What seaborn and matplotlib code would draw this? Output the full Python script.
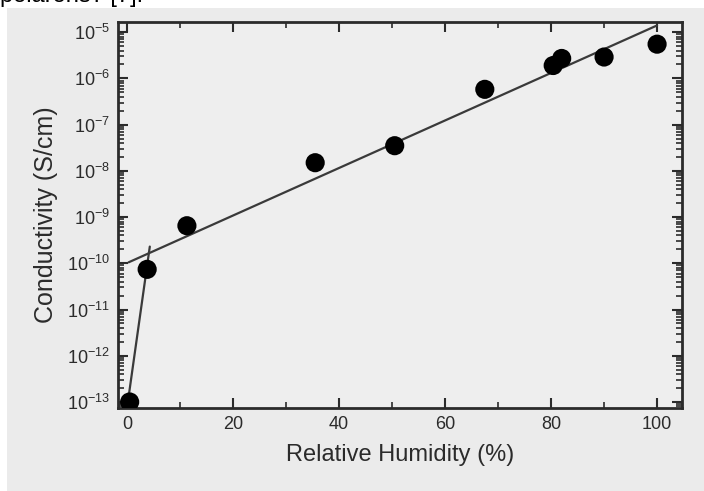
# Conductivity vs relative humidity (scanned figure recreation)
import numpy as np
import pandas as pd
import matplotlib
matplotlib.use("Agg")
import matplotlib.pyplot as plt
from matplotlib.patches import Rectangle
from matplotlib.ticker import LogLocator, MultipleLocator, FixedLocator, FuncFormatter
import seaborn as sns

# measured points
humidity = [0.5, 3.8, 11.3, 35.5, 50.5, 67.5, 80.4, 82.0, 90.0, 100.0]
conductivity = [1.0e-13, 7.4e-11, 6.5e-10, 1.5e-8, 3.5e-8, 5.8e-7, 1.9e-6, 2.7e-6, 2.9e-6, 5.5e-6]

# fitted lines (end points)
steep_x = [0.0, 4.3]
steep_y = [7.4e-14, 2.3e-10]
fit_x = [0.3, 100.0]
fit_y = [1.05e-10, 1.4e-5]

x_ticks = [0, 20, 40, 60, 80, 100]
y_exponents = [-13, -12, -11, -10, -9, -8, -7, -6, -5]

sns.set_theme(style="ticks")
plt.rcParams["font.family"] = ["Liberation Sans", "DejaVu Sans"]
plt.rcParams["mathtext.default"] = "regular"

ink = "#2b2b2b"
fig = plt.figure(figsize=(7.04, 4.91), dpi=100)
fig.patch.set_facecolor("white")
fig.add_artist(Rectangle((7 / 704, 0), 1, 1 - 8 / 491, transform=fig.transFigure,
                         facecolor="#ebebeb", edgecolor="none", zorder=0))
# running text of the page above the scanned figure, only its lower edge shows
fig.text(0.0, 1 - 2 / 491, "polarons? [7].", fontsize=17, color="black",
         ha="left", va="baseline")

ax = fig.add_axes([118 / 704, 1 - 408 / 491, (682 - 118) / 704, (408 - 22) / 491])
ax.set_facecolor("#eeeeee")

pts = pd.DataFrame({"rh": humidity, "sigma": conductivity})
sns.lineplot(x=steep_x, y=steep_y, ax=ax, color="#3a3a3a", linewidth=1.6)
sns.lineplot(x=fit_x, y=fit_y, ax=ax, color="#3a3a3a", linewidth=1.6)
sns.scatterplot(data=pts, x="rh", y="sigma", ax=ax, s=190, color="black",
                edgecolor="none", zorder=5)

ax.set_yscale("log")
ax.set_xlim(-1.7, 104.7)
ax.set_ylim(10 ** -13.13, 10 ** -4.78)

ax.xaxis.set_major_locator(FixedLocator(x_ticks))
ax.xaxis.set_minor_locator(MultipleLocator(10))
ax.yaxis.set_major_locator(FixedLocator([10.0 ** e for e in y_exponents]))
ax.yaxis.set_minor_locator(LogLocator(base=10, subs=np.arange(2, 10) * 1.0, numticks=20))
ax.yaxis.set_major_formatter(FuncFormatter(lambda v, p: r"$10^{%d}$" % round(np.log10(v))))

ax.tick_params(which="both", direction="in", top=True, right=True, color=ink)
ax.tick_params(which="major", length=7, width=1.5, labelsize=13, labelcolor=ink, pad=6)
ax.tick_params(which="minor", length=4, width=1.2)
for s in ax.spines.values():
    s.set_linewidth(2)
    s.set_color(ink)

ax.set_xlabel("Relative Humidity (%)", fontsize=17, color=ink, labelpad=8)
ax.set_ylabel("Conductivity (S/cm)", fontsize=18, color=ink, labelpad=6)

fig.savefig("out.png", dpi=100)
